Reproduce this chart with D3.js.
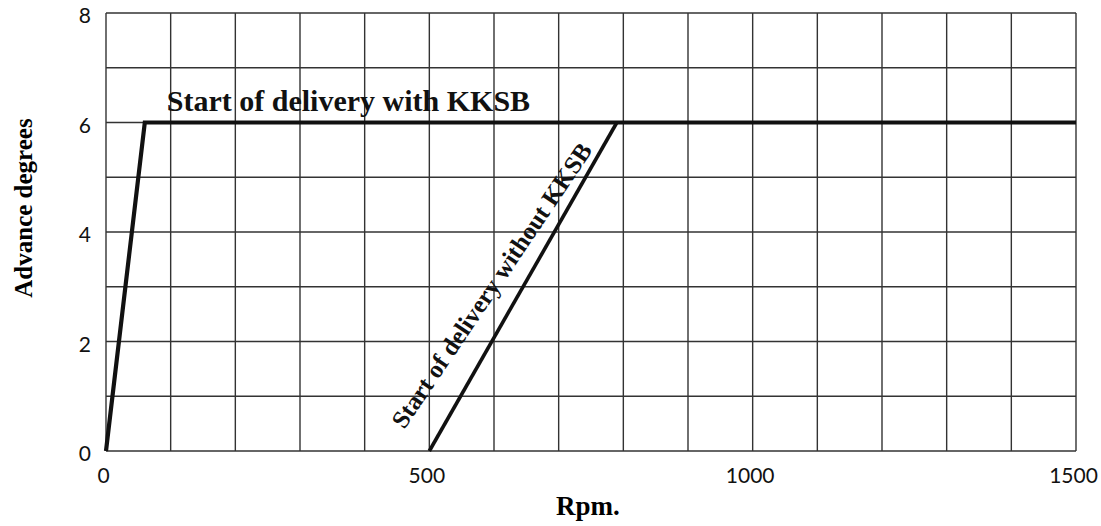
<!DOCTYPE html>
<html>
<head>
<meta charset="utf-8">
<script src="https://cdn.jsdelivr.net/npm/d3@7"></script>
<style>
  body { margin: 0; background: #fff; }
  .tick text { font-family: Lato, "Open Sans", sans-serif; }
</style>
</head>
<body>
<div id="chart"></div>
<script>
// data
const withKKSB_rpm = [0, 60, 1500];
const withKKSB_deg = [0, 6, 6];
const withoutKKSB_rpm = [500, 790];
const withoutKKSB_deg = [0, 6];
const xTicks = [0, 500, 1000, 1500];
const yTicks = [0, 2, 4, 6, 8];

const W = 1101, H = 526;
const margin = {top: 13, right: 25, bottom: 75, left: 106};
const width = W - margin.left - margin.right,
      height = H - margin.top - margin.bottom;
const serif = "'Liberation Serif', 'Times New Roman', serif";

const svg = d3.select("#chart").append("svg")
    .attr("width", W).attr("height", H);
const g = svg.append("g")
    .attr("transform", `translate(${margin.left},${margin.top})`);

const x = d3.scaleLinear().domain([0, 1500]).range([0, width]);
const y = d3.scaleLinear().domain([0, 8]).range([height, 0]);

// grid every 100 rpm and every 1 degree
g.append("g").selectAll("line")
    .data(d3.range(0, 1501, 100))
    .enter().append("line")
    .attr("x1", d => x(d)).attr("x2", d => x(d))
    .attr("y1", 0).attr("y2", height)
    .attr("stroke", "#333").attr("stroke-width", 1.4);
g.append("g").selectAll("line")
    .data(d3.range(0, 9, 1))
    .enter().append("line")
    .attr("y1", d => y(d)).attr("y2", d => y(d))
    .attr("x1", 0).attr("x2", width)
    .attr("stroke", "#333").attr("stroke-width", 1.4);

// axes (labels only)
const xAxis = g.append("g")
    .attr("transform", `translate(0,${height})`)
    .call(d3.axisBottom(x).tickValues(xTicks).tickSize(0).tickPadding(17).tickFormat(d3.format("d")));
const yAxis = g.append("g")
    .call(d3.axisLeft(y).tickValues(yTicks).tickSize(0).tickPadding(15));
[xAxis, yAxis].forEach(a => {
    a.select(".domain").remove();
    a.selectAll("text").style("font-size", "21px").attr("fill", "#111");
});
xAxis.selectAll("text").attr("dx", -3);
yAxis.selectAll("text").attr("y", 3);

// curves
const line = d3.line().x(d => x(d[0])).y(d => y(d[1]));
g.append("path")
    .datum(d3.zip(withKKSB_rpm, withKKSB_deg))
    .attr("d", line)
    .attr("fill", "none").attr("stroke", "#111").attr("stroke-width", 4.2)
    .attr("stroke-linejoin", "miter");
g.append("path")
    .datum(d3.zip(withoutKKSB_rpm, withoutKKSB_deg))
    .attr("d", line)
    .attr("fill", "none").attr("stroke", "#111").attr("stroke-width", 3.6);

// curve labels
g.append("text")
    .attr("x", x(94)).attr("y", y(6) - 12)
    .style("font-family", serif)
    .style("font-weight", "bold").style("font-size", "30px")
    .attr("fill", "#111")
    .text("Start of delivery with KKSB");

const x0 = x(withoutKKSB_rpm[0]), y0 = y(withoutKKSB_deg[0]);
g.append("text")
    .attr("transform", `translate(${x0 - 25},${y0 - 21}) rotate(-56)`)
    .style("font-family", serif)
    .style("font-weight", "bold").style("font-size", "25px")
    .attr("fill", "#111")
    .text("Start of delivery without KKSB");

// axis titles
svg.append("text")
    .attr("x", 588).attr("y", 515)
    .attr("text-anchor", "middle")
    .style("font-family", serif)
    .style("font-weight", "bold").style("font-size", "27px")
    .text("Rpm.");
svg.append("text")
    .attr("transform", "translate(32,208) rotate(-90)")
    .attr("text-anchor", "middle")
    .style("font-family", serif)
    .style("font-weight", "bold").style("font-size", "25px")
    .text("Advance degrees");
</script>
</body>
</html>
